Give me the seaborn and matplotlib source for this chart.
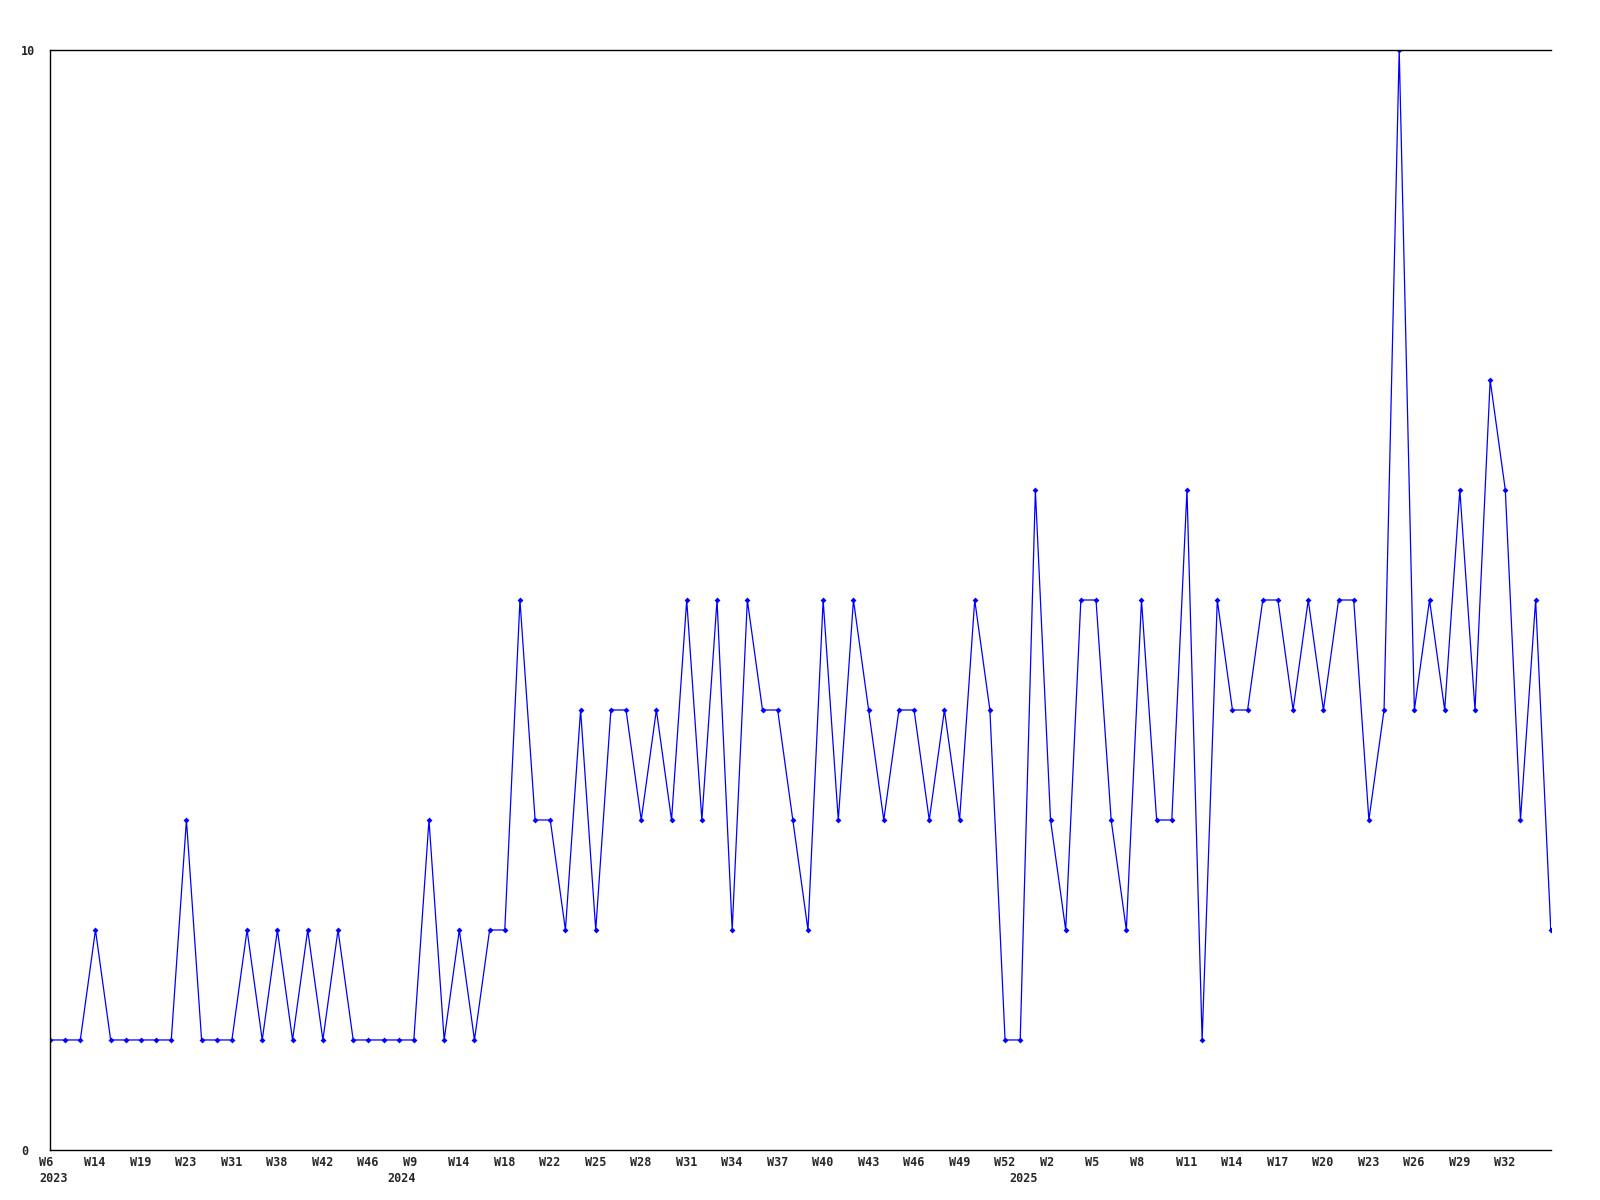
import matplotlib
matplotlib.use('Agg')
import matplotlib.pyplot as plt
import matplotlib.transforms as mtransforms
import numpy as np
import pandas as pd
import seaborn as sns

# Weekly counts, one value per week (evenly spaced on the axis)
counts = [1, 1, 1, 2, 1, 1, 1, 1, 1, 3,
          1, 1, 1, 2, 1, 2, 1, 2, 1, 2,
          1, 1, 1, 1, 1, 3, 1, 2, 1, 2,
          2, 5, 3, 3, 2, 4, 2, 4, 4, 3,
          4, 3, 5, 3, 5, 2, 5, 4, 4, 3,
          2, 5, 3, 5, 4, 3, 4, 4, 3, 4,
          3, 5, 4, 1, 1, 6, 3, 2, 5, 5,
          3, 2, 5, 3, 3, 6, 1, 5, 4, 4,
          5, 5, 4, 5, 4, 5, 5, 3, 4, 10,
          4, 5, 4, 6, 4, 7, 6, 3, 5, 2]

# Week labels shown every third point
week_labels = ['W6', 'W14', 'W19', 'W23', 'W31', 'W38', 'W42', 'W46', 'W9',
               'W14', 'W18', 'W22', 'W25', 'W28', 'W31', 'W34', 'W37', 'W40',
               'W43', 'W46', 'W49', 'W52', 'W2', 'W5', 'W8', 'W11', 'W14',
               'W17', 'W20', 'W23', 'W26', 'W29', 'W32']

# Index of the first week of each year
years = ['2023', '2024', '2025']
year_start = [0, 23, 64]

df = pd.DataFrame({'week': np.arange(len(counts)), 'count': counts})

sns.set_style('white')
plt.rcParams['font.family'] = ['DejaVu Sans Mono']
plt.rcParams['font.weight'] = 'bold'

fig = plt.figure(figsize=(16, 12), dpi=100)
ax = fig.add_axes([0.03125, 0.0417, 0.9380, 0.9166])

sns.lineplot(data=df, x='week', y='count', ax=ax, color='#0000ff',
             linewidth=0.9, marker='D', markersize=3, markeredgewidth=0)

ax.set_xlim(0, len(counts) - 1)
ax.set_ylim(0, 10)
ax.set_xlabel('')
ax.set_ylabel('')

tick_pos = np.arange(0, len(counts), 3)[:len(week_labels)]
ax.set_xticks(tick_pos)
ax.set_xticklabels([])
ax.set_yticks([0, 10])
ax.set_yticklabels(['0', '10'], fontsize=8.5, fontweight='bold', ha='left')
ax.tick_params(axis='x', length=0)
ax.tick_params(axis='y', length=0, pad=21)

# labels start a little to the left of their point, like the original
base = mtransforms.blended_transform_factory(ax.transData, ax.transAxes)
week_tr = base + mtransforms.ScaledTranslation(-0.11, -0.13, fig.dpi_scale_trans)
year_tr = base + mtransforms.ScaledTranslation(-0.11, -0.285, fig.dpi_scale_trans)
for pos, lab in zip(tick_pos, week_labels):
    ax.text(pos, 0, lab, transform=week_tr, ha='left', va='center',
            fontsize=8.5, fontweight='bold', clip_on=False)
for yr, idx in zip(years, year_start):
    ax.text(idx, 0, yr, transform=year_tr, ha='left', va='center',
            fontsize=8.5, fontweight='bold', clip_on=False)

for side in ['left', 'top', 'bottom']:
    ax.spines[side].set_visible(True)
    ax.spines[side].set_color('black')
    ax.spines[side].set_linewidth(1)
ax.spines['right'].set_visible(False)
ax.grid(False)

fig.savefig('out.png', dpi=100)
